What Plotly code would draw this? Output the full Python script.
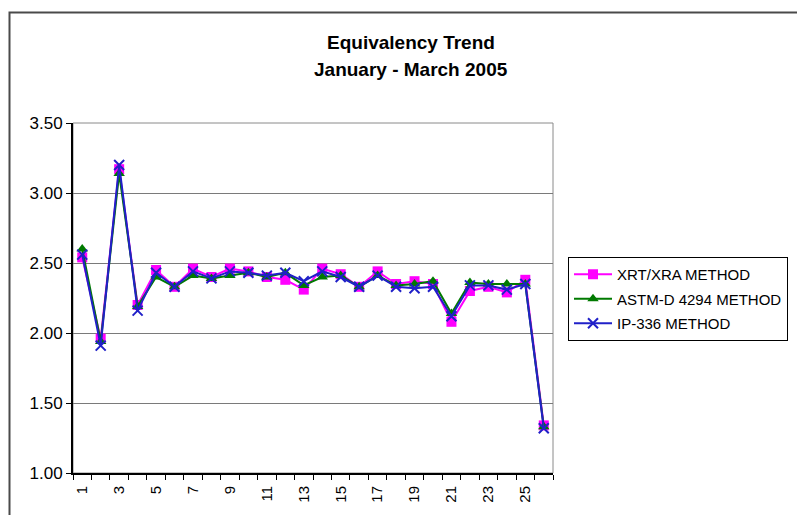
import plotly.graph_objects as go

# Sample numbers (1..26) and results for each test method
samples = list(range(1, 27))
xrt_xra = [2.54, 1.96, 3.17, 2.20, 2.45, 2.33, 2.46, 2.40, 2.46, 2.44,
           2.40, 2.38, 2.31, 2.46, 2.42, 2.33, 2.44, 2.35, 2.37, 2.35,
           2.08, 2.30, 2.33, 2.29, 2.38, 1.34]
astm_d4294 = [2.60, 1.94, 3.14, 2.19, 2.40, 2.33, 2.41, 2.39, 2.41, 2.43,
              2.40, 2.43, 2.34, 2.40, 2.41, 2.33, 2.41, 2.34, 2.35, 2.37,
              2.14, 2.36, 2.35, 2.35, 2.35, 1.33]
ip_336 = [2.56, 1.91, 3.20, 2.16, 2.43, 2.33, 2.44, 2.39, 2.44, 2.43,
          2.41, 2.43, 2.37, 2.44, 2.40, 2.33, 2.41, 2.33, 2.32, 2.33,
          2.12, 2.34, 2.34, 2.31, 2.35, 1.32]

series_names = ["XRT/XRA METHOD", "ASTM-D 4294 METHOD", "IP-336 METHOD"]
y_ticks = [1.00, 1.50, 2.00, 2.50, 3.00, 3.50]
x_labels = [str(n) for n in samples if n % 2 == 1]

FONT = "Arial, 'Liberation Sans', sans-serif"

fig = go.Figure()
styles = [
    (xrt_xra, "#FF00FF", dict(symbol="square", size=10, color="#FF00FF")),
    (astm_d4294, "#007A00", dict(symbol="triangle-up", size=10, color="#007A00")),
    (ip_336, "#2020C8", dict(symbol="x-thin", size=10, color="#2020C8",
                             line=dict(width=2, color="#2020C8"))),
]
for i, (vals, color, marker) in enumerate(styles):
    fig.add_trace(go.Scatter(
        x=samples, y=vals, name=series_names[i], mode="lines+markers",
        line=dict(color=color, width=2), marker=marker,
        legendgroup=f"g{i}",
    ))

# Plot-area frame (grey) and outer chart border
fig.add_shape(type="rect", xref="paper", yref="paper", x0=0, x1=1, y0=0, y1=1,
              line=dict(color="#8a8a8a", width=1), layer="below")
fig.add_shape(type="rect", xref="paper", yref="paper",
              x0=(9.5 - 73) / 480, x1=(805 - 73) / 480,
              y0=(473 - 525) / 350, y1=(473 - 12.5) / 350,
              line=dict(color="#4a4a4a", width=2), layer="below")

for text, ypx in [("<b>Equivalency Trend</b>", 43), ("<b>January - March 2005</b>", 70)]:
    fig.add_annotation(text=text, xref="paper", yref="paper",
                       x=(411 - 73) / 480, y=(473 - ypx) / 350,
                       xanchor="center", yanchor="middle", showarrow=False,
                       font=dict(family=FONT, size=19, color="#000"))

fig.update_layout(
    width=797, height=515,
    margin=dict(l=73, r=244, t=123, b=42, autoexpand=False),
    paper_bgcolor="white", plot_bgcolor="white",
    font=dict(family=FONT, size=14, color="#000"),
    showlegend=True,
    legend=dict(x=(568 - 73) / 480, y=(473 - 257) / 350, xanchor="left", yanchor="top",
                bordercolor="#000", borderwidth=1, bgcolor="white",
                font=dict(family=FONT, size=15, color="#000"),
                itemwidth=38,
                traceorder="grouped", tracegroupgap=2),
)
fig.update_xaxes(
    range=[0.5, 26.5], tickmode="array",
    tickvals=[n for n in samples if n % 2 == 1], ticktext=x_labels,
    tickangle=-90, ticks="", showgrid=False, zeroline=False,
    showline=True, linecolor="#000", linewidth=2,
    tickfont=dict(family=FONT, size=15), ticklabelstandoff=5,
    minor=dict(tickmode="array", tickvals=[n + 0.5 for n in range(0, 27)],
               ticks="outside", ticklen=5, tickcolor="#000", tickwidth=1, showgrid=False),
)
fig.update_yaxes(
    range=[1.0, 3.5], tickmode="array", tickvals=y_ticks,
    tickformat=".2f", ticks="outside", ticklen=5, tickcolor="#000",
    showgrid=True, gridcolor="#7a7a7a", gridwidth=1, zeroline=False,
    showline=True, linecolor="#000", linewidth=2,
    tickfont=dict(family=FONT, size=17),
)

fig.write_html("out.html")
